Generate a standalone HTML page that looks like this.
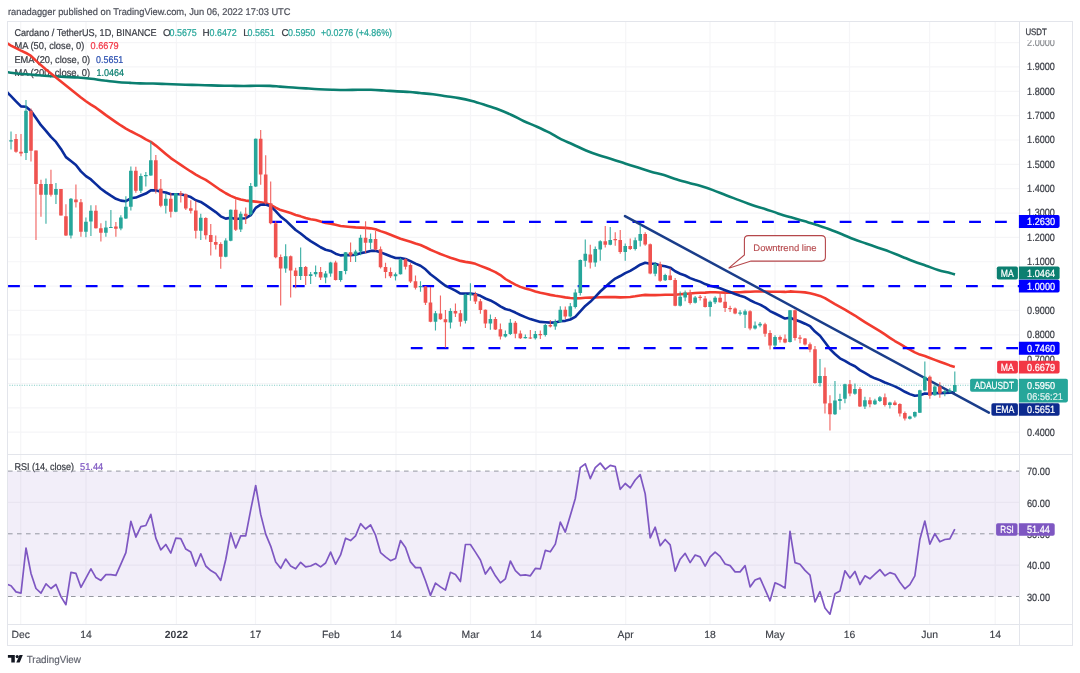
<!DOCTYPE html>
<html><head><meta charset="utf-8"><style>html,body{margin:0;padding:0;background:#fff;width:1080px;height:673px;overflow:hidden}svg{display:block;will-change:transform;text-rendering:geometricPrecision}</style></head>
<body>
<svg width="1080" height="673" viewBox="0 0 1080 673" font-family='"Liberation Sans", sans-serif'>
<defs>
<clipPath id="mp"><rect x="8" y="22" width="1011.0" height="432.0"/></clipPath>
<clipPath id="rp"><rect x="8" y="455.0" width="1011.0" height="169.0"/></clipPath>
</defs>
<rect width="1080" height="673" fill="#fff"/>
<text x="8" y="15.1" font-size="9.7" fill="#4e515b" textLength="282.5" lengthAdjust="spacingAndGlyphs" stroke="#4e515b" stroke-width="0.22">ranadagger published on TradingView.com, Jun 06, 2022 17:03 UTC</text>
<path d="M20.7 21V624.5 M86 21V624.5 M176.4 21V624.5 M255.5 21V624.5 M330.9 21V624.5 M396 21V624.5 M470.5 21V624.5 M536 21V624.5 M625.7 21V624.5 M710 21V624.5 M775 21V624.5 M849.5 21V624.5 M929.6 21V624.5 M995.2 21V624.5 M7 432.20H1019.5 M7 407.85H1019.5 M7 383.50H1019.5 M7 359.15H1019.5 M7 334.80H1019.5 M7 310.45H1019.5 M7 286.10H1019.5 M7 261.75H1019.5 M7 237.40H1019.5 M7 213.05H1019.5 M7 188.70H1019.5 M7 164.35H1019.5 M7 140.00H1019.5 M7 115.65H1019.5 M7 91.30H1019.5 M7 66.95H1019.5 M7 42.60H1019.5 M7 502.45H1019.5 M7 565.15H1019.5" stroke="#f5f5f7" stroke-width="1.2" fill="none"/>
<text x="14.4" y="469.6" font-size="9.9" fill="#3a3d45" textLength="59.7" lengthAdjust="spacingAndGlyphs" stroke="#3a3d45" stroke-width="0.22">RSI (14, close)</text>
<text x="80" y="469.6" font-size="9.9" fill="#7e57c2" textLength="23.2" lengthAdjust="spacingAndGlyphs" stroke="#7e57c2" stroke-width="0.22">51.44</text>
<rect x="7" y="471.10" width="1012.5" height="125.40" fill="#7e57c2" fill-opacity="0.1"/>
<path d="M8 471.10H1019.5" stroke="#9598a1" stroke-width="1" stroke-dasharray="4.6 4.4"/>
<path d="M8 533.80H1019.5" stroke="#9598a1" stroke-width="1" stroke-dasharray="4.6 4.4"/>
<path d="M8 596.50H1019.5" stroke="#9598a1" stroke-width="1" stroke-dasharray="4.6 4.4"/>
<text x="14.4" y="35.9" font-size="9.9" fill="#3a3d45" textLength="142.3" lengthAdjust="spacingAndGlyphs" stroke="#3a3d45" stroke-width="0.22">Cardano / TetherUS, 1D, BINANCE</text>
<text x="162.9" y="35.9" font-size="9.9" fill="#3a3d45" stroke="#3a3d45" stroke-width="0.22">O</text>
<text x="169.5" y="35.9" font-size="9.9" fill="#26a69a" textLength="27.3" lengthAdjust="spacingAndGlyphs" stroke="#26a69a" stroke-width="0.22">0.5675</text>
<text x="202.6" y="35.9" font-size="9.9" fill="#3a3d45" stroke="#3a3d45" stroke-width="0.22">H</text>
<text x="209.5" y="35.9" font-size="9.9" fill="#26a69a" textLength="27.3" lengthAdjust="spacingAndGlyphs" stroke="#26a69a" stroke-width="0.22">0.6472</text>
<text x="243.2" y="35.9" font-size="9.9" fill="#3a3d45" stroke="#3a3d45" stroke-width="0.22">L</text>
<text x="247.5" y="35.9" font-size="9.9" fill="#26a69a" textLength="27.3" lengthAdjust="spacingAndGlyphs" stroke="#26a69a" stroke-width="0.22">0.5651</text>
<text x="281.5" y="35.9" font-size="9.9" fill="#3a3d45" stroke="#3a3d45" stroke-width="0.22">C</text>
<text x="288" y="35.9" font-size="9.9" fill="#26a69a" textLength="27.3" lengthAdjust="spacingAndGlyphs" stroke="#26a69a" stroke-width="0.22">0.5950</text>
<text x="321" y="35.9" font-size="9.9" fill="#26a69a" textLength="71" lengthAdjust="spacingAndGlyphs" stroke="#26a69a" stroke-width="0.22">+0.0276 (+4.86%)</text>
<text x="14.4" y="49.4" font-size="9.9" fill="#3a3d45" textLength="70" lengthAdjust="spacingAndGlyphs" stroke="#3a3d45" stroke-width="0.22">MA (50, close, 0)</text>
<text x="90.6" y="49.4" font-size="9.9" fill="#f23645" textLength="28" lengthAdjust="spacingAndGlyphs" stroke="#f23645" stroke-width="0.22">0.6679</text>
<text x="14.4" y="62.8" font-size="9.9" fill="#3a3d45" textLength="75.8" lengthAdjust="spacingAndGlyphs" stroke="#3a3d45" stroke-width="0.22">EMA (20, close, 0)</text>
<text x="96.1" y="62.8" font-size="9.9" fill="#2a4fb0" textLength="27.2" lengthAdjust="spacingAndGlyphs" stroke="#2a4fb0" stroke-width="0.22">0.5651</text>
<text x="14.4" y="76.1" font-size="9.9" fill="#3a3d45" textLength="75.8" lengthAdjust="spacingAndGlyphs" stroke="#3a3d45" stroke-width="0.22">MA (200, close, 0)</text>
<text x="96.4" y="76.1" font-size="9.9" fill="#0b7f70" textLength="27.6" lengthAdjust="spacingAndGlyphs" stroke="#0b7f70" stroke-width="0.22">1.0464</text>
<g clip-path="url(#mp)">
<path d="M7.00 72.10C8.00 72.25 9.83 72.63 13.00 73.00C16.17 73.37 21.67 73.92 26.00 74.30C30.33 74.68 34.67 74.98 39.00 75.30C43.33 75.62 47.67 75.93 52.00 76.20C56.33 76.47 60.67 76.68 65.00 76.90C69.33 77.12 73.67 77.18 78.00 77.50C82.33 77.82 86.67 78.30 91.00 78.80C95.33 79.30 99.67 79.97 104.00 80.50C108.33 81.03 112.67 81.60 117.00 82.00C121.33 82.40 126.17 82.67 130.00 82.90C133.83 83.13 136.17 83.30 140.00 83.40C143.83 83.50 148.67 83.40 153.00 83.50C157.33 83.60 161.67 83.83 166.00 84.00C170.33 84.17 174.67 84.35 179.00 84.50C183.33 84.65 187.67 84.78 192.00 84.90C196.33 85.02 200.67 85.08 205.00 85.20C209.33 85.32 213.67 85.50 218.00 85.60C222.33 85.70 226.67 85.73 231.00 85.80C235.33 85.87 239.67 86.02 244.00 86.00C248.33 85.98 252.67 85.72 257.00 85.70C261.33 85.68 266.17 85.75 270.00 85.90C273.83 86.05 276.17 86.33 280.00 86.60C283.83 86.87 288.67 87.20 293.00 87.50C297.33 87.80 301.67 88.12 306.00 88.40C310.33 88.68 314.67 88.98 319.00 89.20C323.33 89.42 327.67 89.57 332.00 89.70C336.33 89.83 340.67 89.98 345.00 90.00C349.33 90.02 353.67 89.83 358.00 89.80C362.33 89.77 366.67 89.68 371.00 89.80C375.33 89.92 379.67 90.23 384.00 90.50C388.33 90.77 392.67 91.15 397.00 91.40C401.33 91.65 406.17 91.73 410.00 92.00C413.83 92.27 416.17 92.62 420.00 93.00C423.83 93.38 428.67 93.77 433.00 94.30C437.33 94.83 441.67 95.57 446.00 96.20C450.33 96.83 454.67 97.30 459.00 98.10C463.33 98.90 467.67 99.87 472.00 101.00C476.33 102.13 480.67 103.53 485.00 104.90C489.33 106.27 493.67 107.57 498.00 109.20C502.33 110.83 506.67 112.70 511.00 114.70C515.33 116.70 519.67 119.20 524.00 121.20C528.33 123.20 532.67 124.75 537.00 126.70C541.33 128.65 546.17 130.90 550.00 132.90C553.83 134.90 556.17 136.77 560.00 138.70C563.83 140.63 568.67 142.53 573.00 144.50C577.33 146.47 581.67 148.70 586.00 150.50C590.33 152.30 594.67 153.85 599.00 155.30C603.33 156.75 607.67 157.85 612.00 159.20C616.33 160.55 620.67 162.00 625.00 163.40C629.33 164.80 633.67 166.22 638.00 167.60C642.33 168.98 646.67 170.45 651.00 171.70C655.33 172.95 659.67 173.80 664.00 175.10C668.33 176.40 672.67 178.15 677.00 179.50C681.33 180.85 686.17 182.15 690.00 183.20C693.83 184.25 696.17 184.65 700.00 185.80C703.83 186.95 708.67 188.52 713.00 190.10C717.33 191.68 721.67 193.63 726.00 195.30C730.33 196.97 734.67 198.48 739.00 200.10C743.33 201.72 747.67 203.53 752.00 205.00C756.33 206.47 760.67 207.50 765.00 208.90C769.33 210.30 773.67 212.00 778.00 213.40C782.33 214.80 786.67 216.05 791.00 217.30C795.33 218.55 799.67 219.60 804.00 220.90C808.33 222.20 812.67 223.67 817.00 225.10C821.33 226.53 825.83 227.98 830.00 229.50C834.17 231.02 838.00 232.57 842.00 234.20C846.00 235.83 850.00 237.75 854.00 239.30C858.00 240.85 862.00 242.10 866.00 243.50C870.00 244.90 874.00 246.30 878.00 247.70C882.00 249.10 886.00 250.40 890.00 251.90C894.00 253.40 898.00 255.10 902.00 256.70C906.00 258.30 910.00 260.00 914.00 261.50C918.00 263.00 922.00 264.30 926.00 265.70C930.00 267.10 934.00 268.68 938.00 269.90C942.00 271.12 947.17 272.22 950.00 273.00C952.83 273.78 954.17 274.33 955.00 274.60" stroke="#0b7f70" stroke-width="2.6" fill="none" stroke-linejoin="round"/>
<polyline points="6.02,42.70 11.01,45.53 16.01,48.15 21.00,50.65 25.99,52.95 30.99,55.84 35.98,60.63 40.97,65.16 45.97,69.51 50.96,73.56 55.96,77.55 60.95,81.54 65.94,85.53 70.94,89.52 75.93,93.52 80.92,97.57 85.92,101.24 90.91,104.64 95.90,107.68 100.90,111.41 105.89,115.13 110.88,118.64 115.88,122.11 120.87,125.46 125.87,128.57 130.86,131.27 135.85,133.80 140.85,136.38 145.84,139.41 150.83,141.92 155.83,145.61 160.82,149.66 165.81,153.97 170.81,158.12 175.80,161.49 180.80,164.86 185.79,168.21 190.78,171.47 195.78,174.56 200.77,177.43 205.76,179.93 210.76,183.25 215.75,186.74 220.74,190.21 225.74,193.26 230.73,195.90 235.72,197.93 240.72,199.48 245.71,200.60 250.71,201.14 255.70,201.62 260.69,202.20 265.69,203.17 270.68,204.95 275.67,207.65 280.67,210.11 285.66,211.56 290.65,213.07 295.65,214.91 300.64,216.36 305.64,218.10 310.63,219.27 315.62,220.00 320.62,221.58 325.61,223.01 330.60,223.62 335.60,224.78 340.59,225.99 345.58,226.47 350.58,226.93 355.57,227.41 360.56,227.63 365.56,227.91 370.55,228.34 375.55,229.20 380.54,231.13 385.53,232.75 390.53,234.76 395.52,236.74 400.51,238.72 405.51,240.27 410.50,241.78 415.49,243.56 420.49,245.05 425.48,247.24 430.48,249.78 435.47,251.87 440.46,254.04 445.46,255.87 450.45,257.74 455.44,259.30 460.44,260.89 465.43,261.88 470.42,262.62 475.42,263.84 480.41,265.84 485.40,267.72 490.40,269.82 495.39,272.09 500.39,275.10 505.38,279.00 510.37,281.97 515.37,284.58 520.36,286.88 525.35,288.47 530.35,289.86 535.34,291.42 540.33,292.71 545.33,293.69 550.32,294.88 555.32,295.80 560.31,296.51 565.30,297.40 570.30,297.97 575.29,298.35 580.28,298.30 585.28,297.78 590.27,297.61 595.26,297.54 600.26,297.25 605.25,297.12 610.24,297.16 615.24,297.11 620.23,297.37 625.23,297.30 630.22,296.93 635.21,296.30 640.21,295.45 645.20,294.86 650.19,295.15 655.19,295.09 660.18,295.07 665.17,294.82 670.17,294.70 675.16,294.76 680.16,294.26 685.15,293.84 690.14,293.52 695.14,293.02 700.13,292.76 705.12,292.63 710.12,292.23 715.11,292.29 720.10,292.47 725.10,292.60 730.09,292.58 735.08,292.38 740.08,292.25 745.07,291.88 750.07,291.72 755.06,291.55 760.05,291.57 765.05,291.57 770.04,291.72 775.03,291.72 780.03,291.75 785.02,291.92 790.01,291.42 795.01,291.68 800.00,291.93 805.00,292.38 809.99,293.17 814.98,294.50 819.98,295.90 824.97,298.12 829.96,301.21 834.96,304.14 839.95,306.87 844.94,309.58 849.94,312.63 854.93,315.51 859.92,318.84 864.92,322.04 869.91,325.09 874.91,328.18 879.90,331.15 884.89,334.44 889.89,337.81 894.88,341.02 899.87,343.82 904.87,346.91 909.86,349.63 914.85,352.37 919.85,354.57 924.84,355.99 929.84,357.97 934.83,359.85 939.82,361.66 944.82,363.54 949.81,365.39 954.80,366.95" stroke="#f23b2f" stroke-width="2.6" fill="none" stroke-linejoin="round"/>
<polyline points="6.02,91.00 11.01,96.09 16.01,101.39 21.00,106.35 25.99,106.76 30.99,110.95 35.98,117.90 40.97,125.23 45.97,130.82 50.96,136.92 55.96,141.88 60.95,148.89 65.94,157.13 70.94,161.09 75.93,165.00 80.92,171.36 85.92,176.17 90.91,179.46 95.90,184.10 100.90,188.73 105.89,192.41 110.88,195.70 115.88,198.84 120.87,200.63 125.87,201.20 130.86,198.30 135.85,197.58 140.85,195.53 145.84,193.58 150.83,190.41 155.83,190.31 160.82,191.77 165.81,192.43 170.81,194.28 175.80,194.18 180.80,194.23 185.79,195.60 190.78,197.04 195.78,200.25 200.77,201.91 205.76,205.09 210.76,208.61 215.75,212.06 220.74,216.32 225.74,218.62 230.73,217.77 235.72,218.92 240.72,218.43 245.71,218.23 250.71,215.16 255.70,207.88 260.69,204.71 265.69,204.56 270.68,206.34 275.67,211.19 280.67,216.65 285.66,220.42 290.65,225.20 295.65,230.03 300.64,233.56 305.64,237.60 310.63,241.09 315.62,244.04 320.62,247.23 325.61,249.73 330.60,250.94 335.60,253.71 340.59,255.36 345.58,255.06 350.58,255.12 355.57,254.77 360.56,253.15 365.56,252.17 370.55,250.91 375.55,250.78 380.54,252.35 385.53,254.22 390.53,256.32 395.52,258.02 400.51,258.14 405.51,258.96 410.50,261.10 415.49,263.65 420.49,265.78 425.48,269.30 430.48,274.29 435.47,278.00 440.46,281.92 445.46,285.77 450.45,288.17 455.44,290.57 460.44,293.54 465.43,293.62 470.42,293.61 475.42,294.35 480.41,295.84 485.40,298.48 490.40,300.43 495.39,303.21 500.39,306.39 505.38,309.02 510.37,310.32 515.37,312.55 520.36,314.99 525.35,317.09 530.35,319.10 535.34,320.52 540.33,321.90 545.33,322.19 550.32,322.60 555.32,322.54 560.31,321.32 565.30,320.87 570.30,319.48 575.29,316.91 580.28,311.49 585.28,305.98 590.27,301.85 595.26,296.81 600.26,291.51 605.25,287.06 610.24,282.58 615.24,278.54 620.23,276.01 625.23,273.15 630.22,270.84 635.21,267.93 640.21,264.70 645.20,262.79 650.19,263.82 655.19,263.82 660.18,265.43 665.17,266.34 670.17,267.64 675.16,271.28 680.16,273.71 685.15,275.49 690.14,278.11 695.14,279.95 700.13,281.64 705.12,284.05 710.12,285.73 715.11,286.87 720.10,288.33 725.10,290.21 730.09,291.98 735.08,294.04 740.08,295.79 745.07,297.26 750.07,300.24 755.06,302.64 760.05,304.65 765.05,307.42 770.04,311.06 775.03,313.53 780.03,316.02 785.02,318.54 790.01,317.75 795.01,319.68 800.00,321.50 805.00,323.69 809.99,326.15 814.98,331.56 819.98,335.80 824.97,342.25 829.96,349.11 834.96,354.02 839.95,358.31 844.94,360.79 849.94,363.90 854.93,366.29 859.92,370.13 864.92,372.99 869.91,375.97 874.91,378.31 879.90,380.11 884.89,382.48 889.89,384.38 894.88,386.34 899.87,388.94 904.87,391.76 909.86,394.12 914.85,395.82 919.85,395.29 924.84,393.53 929.84,393.73 934.83,393.03 939.82,393.08 944.82,392.91 949.81,392.68 954.80,391.94" stroke="#0a2c9c" stroke-width="2.6" fill="none" stroke-linejoin="round"/>
<path d="M270.1 221.8H1019.5" stroke="#0000ff" stroke-width="2.3" stroke-dasharray="11.8 14.09"/>
<path d="M8.08 286.2H1019.5" stroke="#0000ff" stroke-width="2.3" stroke-dasharray="11.8 14.09"/>
<path d="M410.8 348.2H1019.5" stroke="#0000ff" stroke-width="2.3" stroke-dasharray="11.8 14.09"/>
<path d="M625 216.1L988.9 412.6" stroke="#1a3d8a" stroke-width="2.5" stroke-linecap="round"/>
<path d="M7 385.25H1019.5" stroke="#26a69a" stroke-width="1.1" stroke-dasharray="1 1.45" opacity="0.6"/>
<path d="M11.01 131.5V149.6 M25.99 100.0V160.0 M45.97 178.6V223.7 M55.96 183.0V203.9 M70.94 198.0V238.4 M85.92 217.6V237.3 M90.91 205.2V236.0 M105.89 220.8V236.7 M110.88 210.0V227.8 M120.87 215.2V230.3 M125.87 196.3V219.0 M130.86 166.4V210.6 M140.85 173.4V192.9 M145.84 172.0V186.6 M150.83 141.6V175.8 M165.81 194.0V213.4 M175.80 193.0V212.2 M200.77 213.7V240.1 M225.74 238.2V257.3 M230.73 209.5V241.2 M240.72 211.5V232.0 M250.71 183.0V215.7 M255.70 138.5V187.0 M285.66 244.2V272.8 M300.64 247.4V280.0 M310.63 272.0V284.0 M315.62 265.4V276.8 M325.61 271.0V283.3 M330.60 261.8V276.8 M340.59 271.0V281.7 M345.58 252.0V274.3 M355.57 249.8V262.0 M360.56 234.8V255.2 M370.55 233.5V249.0 M395.52 272.5V280.6 M400.51 258.0V274.6 M420.49 281.2V291.8 M435.47 311.0V330.4 M450.45 308.2V328.5 M465.43 293.7V323.6 M470.42 283.3V300.7 M490.40 314.5V329.7 M505.38 330.4V337.4 M510.37 319.0V335.0 M525.35 334.5V338.5 M535.34 330.9V339.5 M545.33 324.0V336.5 M555.32 319.4V329.7 M560.31 306.3V322.7 M570.30 303.0V317.8 M575.29 289.3V308.4 M580.28 259.6V295.6 M585.28 239.4V266.7 M595.26 246.5V266.7 M600.26 240.3V260.8 M610.24 227.0V245.3 M625.23 243.5V260.8 M635.21 237.6V250.6 M640.21 225.0V246.5 M655.19 262.0V276.3 M665.17 273.8V281.0 M680.16 291.5V306.6 M685.15 290.6V301.3 M695.14 296.0V303.5 M710.12 300.4V316.5 M715.11 296.3V303.9 M740.08 310.3V315.6 M745.07 309.4V328.1 M755.06 321.4V329.6 M760.05 321.9V327.2 M775.03 335.3V347.4 M790.01 310.0V342.4 M819.98 359.1V386.5 M834.96 380.9V415.0 M839.95 393.8V409.8 M844.94 383.8V403.2 M854.93 383.4V394.7 M864.92 396.8V409.1 M874.91 398.7V404.9 M879.90 396.0V402.0 M889.89 401.7V408.6 M909.86 415.8V419.6 M914.85 411.4V417.8 M919.85 389.8V413.1 M924.84 361.5V391.3 M934.83 384.5V395.7 M944.82 389.8V396.2 M949.81 388.3V392.6 M954.80 371.4V392.0" stroke="#26a69a" stroke-width="1.15" fill="none" opacity="0.88"/>
<path d="M9.21 140.2h3.6v1.2h-3.6z M24.19 110.7h3.6v42.3h-3.6z M44.17 184.0h3.6v10.8h-3.6z M54.16 189.0h3.6v5.8h-3.6z M69.14 198.7h3.6v36.7h-3.6z M84.12 221.8h3.6v10.0h-3.6z M89.11 210.7h3.6v10.9h-3.6z M104.09 227.4h3.6v5.3h-3.6z M109.08 226.9h3.6v1.2h-3.6z M119.07 217.6h3.6v10.9h-3.6z M124.07 206.7h3.6v11.9h-3.6z M129.06 170.7h3.6v36.1h-3.6z M139.05 176.1h3.6v14.6h-3.6z M144.04 175.1h3.6v1.2h-3.6z M149.03 160.3h3.6v15.3h-3.6z M164.01 198.7h3.6v7.0h-3.6z M174.00 193.2h3.6v18.6h-3.6z M198.97 217.7h3.6v13.0h-3.6z M223.94 240.5h3.6v16.3h-3.6z M228.93 209.7h3.6v31.0h-3.6z M238.92 213.8h3.6v15.8h-3.6z M248.91 186.0h3.6v28.3h-3.6z M253.90 138.7h3.6v47.9h-3.6z M283.86 256.2h3.6v12.3h-3.6z M298.84 267.0h3.6v9.0h-3.6z M308.83 274.3h3.6v1.7h-3.6z M313.82 272.0h3.6v2.3h-3.6z M323.81 273.5h3.6v4.1h-3.6z M328.80 262.4h3.6v11.1h-3.6z M338.79 271.0h3.6v9.0h-3.6z M343.78 252.3h3.6v18.7h-3.6z M353.77 251.5h3.6v4.1h-3.6z M358.76 237.8h3.6v13.7h-3.6z M368.75 239.0h3.6v3.8h-3.6z M393.72 274.2h3.6v2.0h-3.6z M398.71 259.3h3.6v15.0h-3.6z M418.69 286.0h3.6v1.2h-3.6z M433.67 313.2h3.6v8.5h-3.6z M448.65 311.0h3.6v11.5h-3.6z M463.63 294.4h3.6v26.4h-3.6z M468.62 293.5h3.6v1.8h-3.6z M488.60 319.0h3.6v4.5h-3.6z M503.58 334.0h3.6v2.6h-3.6z M508.57 322.7h3.6v11.3h-3.6z M523.55 337.0h3.6v1.2h-3.6z M533.54 334.0h3.6v4.2h-3.6z M543.53 325.0h3.6v10.0h-3.6z M553.52 321.9h3.6v4.6h-3.6z M558.51 309.8h3.6v12.2h-3.6z M568.50 306.3h3.6v10.3h-3.6z M573.49 292.4h3.6v14.7h-3.6z M578.48 260.0h3.6v32.9h-3.6z M583.48 253.7h3.6v7.1h-3.6z M593.46 248.9h3.6v13.7h-3.6z M598.46 241.2h3.6v8.4h-3.6z M608.44 240.0h3.6v4.8h-3.6z M623.43 246.0h3.6v5.9h-3.6z M633.41 240.3h3.6v8.6h-3.6z M638.41 234.0h3.6v6.7h-3.6z M653.39 263.9h3.6v9.8h-3.6z M663.37 275.0h3.6v5.3h-3.6z M678.36 296.8h3.6v9.0h-3.6z M683.35 292.4h3.6v5.0h-3.6z M693.34 297.4h3.6v5.3h-3.6z M708.32 301.7h3.6v5.3h-3.6z M713.31 297.7h3.6v4.5h-3.6z M738.28 312.5h3.6v1.2h-3.6z M743.27 311.2h3.6v3.6h-3.6z M753.26 325.5h3.6v3.0h-3.6z M758.25 323.7h3.6v1.8h-3.6z M773.23 337.0h3.6v8.6h-3.6z M788.21 310.3h3.6v31.7h-3.6z M818.18 376.0h3.6v7.1h-3.6z M833.16 400.6h3.6v13.7h-3.6z M838.15 399.1h3.6v1.9h-3.6z M843.14 384.3h3.6v14.4h-3.6z M853.13 389.0h3.6v4.8h-3.6z M863.12 400.2h3.6v6.4h-3.6z M873.11 400.6h3.6v3.6h-3.6z M878.10 397.2h3.6v3.8h-3.6z M888.09 402.4h3.6v2.6h-3.6z M908.06 416.5h3.6v2.3h-3.6z M913.05 412.0h3.6v4.5h-3.6z M918.05 390.2h3.6v22.6h-3.6z M923.04 376.8h3.6v13.7h-3.6z M933.03 386.4h3.6v8.9h-3.6z M943.02 391.3h3.6v1.2h-3.6z M948.01 390.5h3.6v1.2h-3.6z M953.00 384.9h3.6v6.8h-3.6z" fill="#26a69a"/>
<path d="M16.01 134.0V152.8 M21.00 134.0V156.2 M30.99 108.6V161.4 M35.98 150.5V239.9 M40.97 179.8V216.8 M50.96 169.8V196.6 M60.95 189.0V215.5 M65.94 204.2V235.9 M75.93 184.5V207.6 M80.92 198.9V236.8 M95.90 205.2V228.5 M100.90 223.2V241.6 M115.88 222.1V236.8 M135.85 166.8V192.8 M155.83 155.0V193.4 M160.82 179.0V207.2 M170.81 192.8V217.4 M180.80 191.0V202.4 M185.79 193.4V210.0 M190.78 200.2V213.4 M195.78 200.7V238.5 M205.76 217.2V239.4 M210.76 224.0V255.5 M215.75 235.5V249.6 M220.74 242.2V268.8 M235.72 199.2V230.9 M245.71 207.5V224.0 M260.69 130.0V184.8 M265.69 155.3V204.6 M270.68 181.5V224.2 M275.67 221.2V258.3 M280.67 254.5V305.6 M290.65 255.5V297.5 M295.65 267.8V288.2 M305.64 266.0V285.0 M320.62 267.0V280.0 M335.60 260.8V280.4 M350.58 242.5V262.0 M365.56 221.2V253.0 M375.55 231.0V250.6 M380.54 246.4V268.6 M385.53 262.8V278.3 M390.53 267.6V277.9 M405.51 258.6V269.6 M410.50 263.2V283.0 M415.49 275.4V289.5 M425.48 286.0V304.9 M430.48 287.0V322.3 M440.46 295.6V319.8 M445.46 310.0V347.8 M455.44 303.4V316.9 M460.44 310.0V326.5 M475.42 291.7V304.0 M480.41 299.0V313.7 M485.40 309.6V328.0 M495.39 317.0V330.0 M500.39 323.5V339.5 M515.37 321.0V338.2 M520.36 330.4V339.0 M530.35 330.0V339.0 M540.33 330.6V339.0 M550.32 320.0V327.6 M565.30 306.6V319.0 M590.27 244.8V268.5 M605.25 226.0V247.4 M615.24 232.3V245.7 M620.23 230.0V253.7 M630.22 238.5V250.0 M645.20 232.3V245.7 M650.19 243.5V274.2 M660.18 261.7V281.7 M670.17 268.3V280.3 M675.16 278.0V306.3 M690.14 289.7V304.5 M700.13 295.0V300.4 M705.12 296.0V307.5 M720.10 292.4V302.7 M725.10 292.4V312.0 M730.09 305.8V312.0 M735.08 307.5V314.2 M750.07 310.3V330.3 M765.05 322.8V336.7 M770.04 330.3V349.5 M780.03 335.6V342.4 M785.02 334.4V343.3 M795.01 309.4V340.6 M800.00 335.0V343.3 M805.00 338.0V345.6 M809.99 342.4V352.2 M814.98 346.0V383.8 M824.97 367.5V413.6 M829.96 395.3V430.6 M849.94 380.0V396.2 M859.92 387.3V406.9 M869.91 397.2V407.2 M884.89 393.5V406.6 M894.88 400.6V405.6 M899.87 403.2V416.5 M904.87 411.4V420.5 M929.84 375.4V398.7 M939.82 382.3V397.7" stroke="#ef5350" stroke-width="1.15" fill="none" opacity="0.88"/>
<path d="M14.21 139.1h3.6v12.7h-3.6z M19.20 151.8h3.6v1.6h-3.6z M29.19 110.7h3.6v40.0h-3.6z M34.18 150.5h3.6v33.5h-3.6z M39.17 184.0h3.6v10.8h-3.6z M49.16 184.0h3.6v10.8h-3.6z M59.15 189.0h3.6v26.5h-3.6z M64.14 216.2h3.6v19.2h-3.6z M74.13 199.5h3.6v2.7h-3.6z M79.12 202.2h3.6v29.6h-3.6z M94.10 210.7h3.6v17.5h-3.6z M99.10 228.2h3.6v4.5h-3.6z M114.08 226.5h3.6v2.2h-3.6z M134.05 170.7h3.6v20.0h-3.6z M154.03 160.3h3.6v29.0h-3.6z M159.02 188.8h3.6v16.9h-3.6z M169.01 198.7h3.6v13.1h-3.6z M179.00 193.2h3.6v1.6h-3.6z M183.99 194.2h3.6v14.4h-3.6z M188.98 208.3h3.6v2.4h-3.6z M193.98 210.5h3.6v20.2h-3.6z M203.96 218.1h3.6v17.2h-3.6z M208.96 235.0h3.6v7.1h-3.6z M213.95 242.0h3.6v2.8h-3.6z M218.94 244.0h3.6v12.8h-3.6z M233.92 209.8h3.6v20.0h-3.6z M243.91 213.8h3.6v2.5h-3.6z M258.89 138.7h3.6v35.9h-3.6z M263.89 174.6h3.6v28.6h-3.6z M268.88 203.2h3.6v20.0h-3.6z M273.87 223.2h3.6v34.1h-3.6z M278.87 257.1h3.6v11.4h-3.6z M288.85 256.2h3.6v14.4h-3.6z M293.85 270.5h3.6v5.5h-3.6z M303.84 267.0h3.6v9.0h-3.6z M318.82 272.0h3.6v5.6h-3.6z M333.80 262.4h3.6v17.6h-3.6z M348.78 252.3h3.6v3.3h-3.6z M363.76 237.8h3.6v5.0h-3.6z M373.75 239.0h3.6v10.5h-3.6z M378.74 249.3h3.6v18.0h-3.6z M383.73 267.0h3.6v5.0h-3.6z M388.73 272.0h3.6v4.2h-3.6z M403.71 259.3h3.6v7.4h-3.6z M408.70 265.0h3.6v16.5h-3.6z M413.69 281.3h3.6v6.5h-3.6z M423.68 286.4h3.6v16.4h-3.6z M428.68 302.6h3.6v19.1h-3.6z M438.66 313.4h3.6v5.8h-3.6z M443.66 319.2h3.6v3.1h-3.6z M453.64 311.0h3.6v2.4h-3.6z M458.64 313.2h3.6v8.5h-3.6z M473.62 294.0h3.6v7.4h-3.6z M478.61 301.2h3.6v8.8h-3.6z M483.60 309.7h3.6v13.8h-3.6z M493.59 319.0h3.6v10.6h-3.6z M498.59 329.3h3.6v7.3h-3.6z M513.57 322.7h3.6v11.0h-3.6z M518.56 333.4h3.6v4.8h-3.6z M528.55 337.4h3.6v1.2h-3.6z M538.53 334.0h3.6v1.2h-3.6z M548.52 325.0h3.6v1.5h-3.6z M563.50 309.8h3.6v6.8h-3.6z M588.47 254.6h3.6v8.0h-3.6z M603.45 241.2h3.6v3.6h-3.6z M613.44 238.9h3.6v1.3h-3.6z M618.43 240.0h3.6v11.9h-3.6z M628.42 246.0h3.6v2.9h-3.6z M643.40 234.0h3.6v10.6h-3.6z M648.39 244.3h3.6v29.3h-3.6z M658.38 264.2h3.6v16.5h-3.6z M668.37 275.5h3.6v4.5h-3.6z M673.36 280.0h3.6v25.8h-3.6z M688.34 292.4h3.6v10.6h-3.6z M698.33 296.8h3.6v1.2h-3.6z M703.32 298.6h3.6v8.4h-3.6z M718.30 297.7h3.6v4.5h-3.6z M723.30 301.7h3.6v6.3h-3.6z M728.29 308.0h3.6v1.2h-3.6z M733.28 308.4h3.6v5.2h-3.6z M748.27 311.2h3.6v17.3h-3.6z M763.25 324.2h3.6v9.6h-3.6z M768.24 333.0h3.6v12.6h-3.6z M778.23 337.0h3.6v2.7h-3.6z M783.22 338.8h3.6v3.6h-3.6z M793.21 310.3h3.6v27.7h-3.6z M798.20 337.4h3.6v1.4h-3.6z M803.20 338.5h3.6v6.0h-3.6z M808.19 344.2h3.6v5.3h-3.6z M813.18 349.2h3.6v33.8h-3.6z M823.17 376.0h3.6v27.6h-3.6z M828.16 403.2h3.6v11.1h-3.6z M848.14 384.3h3.6v9.2h-3.6z M858.12 389.0h3.6v17.6h-3.6z M868.11 400.2h3.6v4.0h-3.6z M883.09 397.2h3.6v7.8h-3.6z M893.08 402.4h3.6v2.6h-3.6z M898.07 403.9h3.6v9.7h-3.6z M903.07 413.1h3.6v5.5h-3.6z M928.04 376.8h3.6v18.9h-3.6z M938.02 386.4h3.6v7.1h-3.6z" fill="#ef5350"/>
</g>
<path d="M748.4 235.6H821.4Q825.4 235.6 825.4 239.6V257.1Q825.4 261.1 821.4 261.1H751L728.7 268.2L744.4 255V239.6Q744.4 235.6 748.4 235.6Z" fill="#fff" stroke="#b5474b" stroke-width="1.1"/>
<text x="753.3" y="251.4" font-size="9.3" fill="#b5474b" textLength="63.3" lengthAdjust="spacingAndGlyphs" stroke="#b5474b" stroke-width="0.12">Downtrend line</text>
<g clip-path="url(#rp)"><polyline points="6.02,584.00 11.01,585.70 16.01,591.90 21.00,593.10 25.99,548.00 30.99,573.40 35.98,588.50 40.97,593.10 45.97,583.80 50.96,588.50 55.96,584.50 60.95,596.60 65.94,604.70 70.94,572.30 75.93,573.40 80.92,587.30 85.92,578.10 90.91,568.80 95.90,577.60 100.90,580.40 105.89,574.60 110.88,574.60 115.88,575.30 120.87,564.20 125.87,552.60 130.86,521.30 135.85,537.10 140.85,526.70 145.84,525.50 150.83,514.40 155.83,538.20 160.82,549.80 165.81,544.50 170.81,553.10 175.80,538.20 180.80,538.70 185.79,549.10 190.78,552.10 195.78,566.00 200.77,553.80 205.76,566.00 210.76,570.60 215.75,573.40 220.74,580.40 225.74,559.50 230.73,532.90 235.72,548.00 240.72,535.90 245.71,535.90 250.71,509.80 255.70,485.50 260.69,514.40 265.69,534.10 270.68,546.10 275.67,561.90 280.67,568.30 285.66,559.10 290.65,566.00 295.65,568.80 300.64,562.30 305.64,566.90 310.63,566.00 315.62,563.50 320.62,566.90 325.61,563.00 330.60,552.10 335.60,564.20 340.59,554.90 345.58,538.20 350.58,540.60 355.57,535.90 360.56,523.70 365.56,529.00 370.55,524.80 375.55,535.20 380.54,552.60 385.53,556.80 390.53,560.70 395.52,558.40 400.51,540.60 405.51,547.50 410.50,561.90 415.49,567.60 420.49,567.60 425.48,580.80 430.48,595.40 435.47,583.10 440.46,586.90 445.46,590.10 450.45,572.30 455.44,574.60 460.44,581.50 465.43,544.50 470.42,544.50 475.42,552.10 480.41,560.00 485.40,574.00 490.40,567.00 495.39,575.80 500.39,582.80 505.38,578.80 510.37,561.00 515.37,570.70 520.36,575.40 525.35,574.90 530.35,575.80 535.34,568.40 540.33,568.90 545.33,550.40 550.32,551.80 555.32,544.10 560.31,522.10 565.30,532.10 570.30,515.60 575.29,498.50 580.28,467.70 585.28,463.80 590.27,478.60 595.26,467.70 600.26,463.10 605.25,469.40 610.24,465.40 615.24,466.60 620.23,489.30 625.23,483.50 630.22,487.90 635.21,480.00 640.21,474.70 645.20,493.90 650.19,537.90 655.19,527.20 660.18,545.70 665.17,539.50 670.17,544.80 675.16,571.20 680.16,559.20 685.15,553.40 690.14,562.60 695.14,555.00 700.13,556.90 705.12,566.10 710.12,556.90 715.11,552.20 720.10,556.40 725.10,564.00 730.09,565.60 735.08,571.90 740.08,571.90 745.07,565.60 750.07,586.90 755.06,580.00 760.05,578.10 765.05,589.30 770.04,600.80 775.03,582.80 780.03,585.10 785.02,588.10 790.01,531.40 795.01,562.60 800.00,564.30 805.00,570.40 809.99,575.10 814.98,601.90 819.98,591.70 824.97,608.00 829.96,614.20 834.96,593.70 839.95,591.10 844.94,570.80 849.94,578.00 854.93,571.40 859.92,584.50 864.92,575.80 869.91,578.80 874.91,574.20 879.90,569.60 884.89,575.80 889.89,572.60 894.88,574.20 899.87,582.30 904.87,588.80 909.86,584.60 914.85,575.80 919.85,539.50 924.84,521.00 929.84,544.10 934.83,533.70 939.82,541.80 944.82,539.50 949.81,538.80 954.80,529.10" stroke="#7e57c2" stroke-width="1.7" fill="none" stroke-linejoin="round"/></g>
<rect x="7.5" y="21.5" width="1065" height="624" fill="none" stroke="#e3e5eb"/>
<path d="M1019.5 21V646M7 454.5H1073M7 624.5H1073" stroke="#e3e5eb" stroke-width="1"/>
<text x="1027.1" y="435.5" font-size="10.5" fill="#3a3d45" textLength="27.8" lengthAdjust="spacingAndGlyphs" stroke="#3a3d45" stroke-width="0.22">0.4000</text>
<text x="1027.1" y="411.2" font-size="10.5" fill="#3a3d45" textLength="27.8" lengthAdjust="spacingAndGlyphs" stroke="#3a3d45" stroke-width="0.22">0.5000</text>
<text x="1027.1" y="386.8" font-size="10.5" fill="#3a3d45" textLength="27.8" lengthAdjust="spacingAndGlyphs" stroke="#3a3d45" stroke-width="0.22">0.6000</text>
<text x="1027.1" y="362.5" font-size="10.5" fill="#3a3d45" textLength="27.8" lengthAdjust="spacingAndGlyphs" stroke="#3a3d45" stroke-width="0.22">0.7000</text>
<text x="1027.1" y="338.1" font-size="10.5" fill="#3a3d45" textLength="27.8" lengthAdjust="spacingAndGlyphs" stroke="#3a3d45" stroke-width="0.22">0.8000</text>
<text x="1027.1" y="313.8" font-size="10.5" fill="#3a3d45" textLength="27.8" lengthAdjust="spacingAndGlyphs" stroke="#3a3d45" stroke-width="0.22">0.9000</text>
<text x="1027.1" y="289.4" font-size="10.5" fill="#3a3d45" textLength="27.8" lengthAdjust="spacingAndGlyphs" stroke="#3a3d45" stroke-width="0.22">1.0000</text>
<text x="1027.1" y="265.1" font-size="10.5" fill="#3a3d45" textLength="27.8" lengthAdjust="spacingAndGlyphs" stroke="#3a3d45" stroke-width="0.22">1.1000</text>
<text x="1027.1" y="240.7" font-size="10.5" fill="#3a3d45" textLength="27.8" lengthAdjust="spacingAndGlyphs" stroke="#3a3d45" stroke-width="0.22">1.2000</text>
<text x="1027.1" y="216.3" font-size="10.5" fill="#3a3d45" textLength="27.8" lengthAdjust="spacingAndGlyphs" stroke="#3a3d45" stroke-width="0.22">1.3000</text>
<text x="1027.1" y="192.0" font-size="10.5" fill="#3a3d45" textLength="27.8" lengthAdjust="spacingAndGlyphs" stroke="#3a3d45" stroke-width="0.22">1.4000</text>
<text x="1027.1" y="167.7" font-size="10.5" fill="#3a3d45" textLength="27.8" lengthAdjust="spacingAndGlyphs" stroke="#3a3d45" stroke-width="0.22">1.5000</text>
<text x="1027.1" y="143.3" font-size="10.5" fill="#3a3d45" textLength="27.8" lengthAdjust="spacingAndGlyphs" stroke="#3a3d45" stroke-width="0.22">1.6000</text>
<text x="1027.1" y="119.0" font-size="10.5" fill="#3a3d45" textLength="27.8" lengthAdjust="spacingAndGlyphs" stroke="#3a3d45" stroke-width="0.22">1.7000</text>
<text x="1027.1" y="94.6" font-size="10.5" fill="#3a3d45" textLength="27.8" lengthAdjust="spacingAndGlyphs" stroke="#3a3d45" stroke-width="0.22">1.8000</text>
<text x="1027.1" y="70.3" font-size="10.5" fill="#3a3d45" textLength="27.8" lengthAdjust="spacingAndGlyphs" stroke="#3a3d45" stroke-width="0.22">1.9000</text>
<text x="1027.1" y="45.9" font-size="10.5" fill="#3a3d45" textLength="27.8" lengthAdjust="spacingAndGlyphs" opacity="0.6" stroke="#3a3d45" stroke-width="0.22">2.0000</text>
<rect x="1020.0" y="22" width="51.5" height="18.2" fill="#fff"/>
<text x="1025.4" y="35.4" font-size="9.4" fill="#3a3d45" textLength="21.4" lengthAdjust="spacingAndGlyphs" stroke="#3a3d45" stroke-width="0.3">USDT</text>
<text x="1027" y="475.2" font-size="10.5" fill="#3a3d45" textLength="23.0" lengthAdjust="spacingAndGlyphs" stroke="#3a3d45" stroke-width="0.22">70.00</text>
<text x="1027" y="506.6" font-size="10.5" fill="#3a3d45" textLength="23.0" lengthAdjust="spacingAndGlyphs" stroke="#3a3d45" stroke-width="0.22">60.00</text>
<text x="1027" y="537.9" font-size="10.5" fill="#3a3d45" textLength="23.0" lengthAdjust="spacingAndGlyphs" stroke="#3a3d45" stroke-width="0.22">50.00</text>
<text x="1027" y="569.2" font-size="10.5" fill="#3a3d45" textLength="23.0" lengthAdjust="spacingAndGlyphs" stroke="#3a3d45" stroke-width="0.22">40.00</text>
<text x="1027" y="600.6" font-size="10.5" fill="#3a3d45" textLength="23.0" lengthAdjust="spacingAndGlyphs" stroke="#3a3d45" stroke-width="0.22">30.00</text>
<path d="M1018.9 215.1H1057.8Q1059.6 215.1 1059.6 216.9V226.1Q1059.6 227.9 1057.8 227.9H1018.9Z" fill="#0000ff"/><text x="1027.1" y="225.2" font-size="10.4" fill="#fff" textLength="28" lengthAdjust="spacingAndGlyphs" stroke="#fff" stroke-width="0.22">1.2630</text>
<rect x="996.8" y="266.4" width="21.100000000000023" height="13.100000000000023" rx="1.8" fill="#0b7f70"/><text x="1000.8" y="276.6" font-size="10.4" fill="#fff" textLength="13" lengthAdjust="spacingAndGlyphs" stroke="#fff" stroke-width="0.22">MA</text>
<path d="M1018.9 266.4H1057.8Q1059.6 266.4 1059.6 268.2V277.7Q1059.6 279.5 1057.8 279.5H1018.9Z" fill="#0b7f70"/><text x="1027.1" y="276.6" font-size="10.4" fill="#fff" textLength="28" lengthAdjust="spacingAndGlyphs" stroke="#fff" stroke-width="0.22">1.0464</text>
<path d="M1018.9 279.8H1057.8Q1059.6 279.8 1059.6 281.6V290.7Q1059.6 292.5 1057.8 292.5H1018.9Z" fill="#0000ff"/><text x="1027.1" y="289.8" font-size="10.4" fill="#fff" textLength="28" lengthAdjust="spacingAndGlyphs" stroke="#fff" stroke-width="0.22">1.0000</text>
<path d="M1018.9 341.8H1057.8Q1059.6 341.8 1059.6 343.6V353.0Q1059.6 354.8 1057.8 354.8H1018.9Z" fill="#0000ff"/><text x="1027.1" y="352.0" font-size="10.4" fill="#fff" textLength="28" lengthAdjust="spacingAndGlyphs" stroke="#fff" stroke-width="0.22">0.7460</text>
<rect x="997.1" y="360.7" width="20.799999999999955" height="12.900000000000034" rx="1.8" fill="#f23645"/><text x="1000.8" y="370.8" font-size="10.4" fill="#fff" textLength="13" lengthAdjust="spacingAndGlyphs" stroke="#fff" stroke-width="0.22">MA</text>
<path d="M1018.9 360.7H1057.8Q1059.6 360.7 1059.6 362.5V371.8Q1059.6 373.6 1057.8 373.6H1018.9Z" fill="#f23645"/><text x="1027.1" y="370.8" font-size="10.4" fill="#fff" textLength="28" lengthAdjust="spacingAndGlyphs" stroke="#fff" stroke-width="0.22">0.6679</text>
<rect x="970.1" y="378.7" width="47.799999999999955" height="13.100000000000023" rx="1.8" fill="#26a69a"/><text x="974.6" y="388.9" font-size="10.4" fill="#fff" textLength="39.5" lengthAdjust="spacingAndGlyphs" stroke="#fff" stroke-width="0.22">ADAUSDT</text>
<path d="M1018.9 378.7H1066.1Q1067.9 378.7 1067.9 380.5V400.6Q1067.9 402.4 1066.1 402.4H1018.9Z" fill="#26a69a"/>
<text x="1027.1" y="388.8" font-size="10" fill="#fff" textLength="28" lengthAdjust="spacingAndGlyphs" stroke="#fff" stroke-width="0.22">0.5950</text>
<text x="1027.1" y="399.6" font-size="10" fill="#dff2ef" textLength="35.8" lengthAdjust="spacingAndGlyphs" stroke="#dff2ef" stroke-width="0.22">06:56:21</text>
<rect x="991.4" y="403.2" width="26.5" height="12.600000000000023" rx="1.8" fill="#0d2a8e"/><text x="995.4" y="413.2" font-size="10.4" fill="#fff" textLength="19" lengthAdjust="spacingAndGlyphs" stroke="#fff" stroke-width="0.22">EMA</text>
<path d="M1018.9 403.2H1057.8Q1059.6 403.2 1059.6 405.0V414.0Q1059.6 415.8 1057.8 415.8H1018.9Z" fill="#0d2a8e"/><text x="1027.1" y="413.2" font-size="10.4" fill="#fff" textLength="28" lengthAdjust="spacingAndGlyphs" stroke="#fff" stroke-width="0.22">0.5651</text>
<rect x="996.1" y="523.2" width="21.399999999999977" height="12.5" rx="1.8" fill="#7e57c2"/><text x="1000.3" y="533.2" font-size="10.4" fill="#fff" textLength="13.5" lengthAdjust="spacingAndGlyphs" stroke="#fff" stroke-width="0.22">RSI</text>
<path d="M1018.9 523.2H1052.9Q1054.7 523.2 1054.7 525.0V533.9000000000001Q1054.7 535.7 1052.9 535.7H1018.9Z" fill="#7e57c2"/><text x="1026.9" y="533.2" font-size="10.4" fill="#fff" textLength="23" lengthAdjust="spacingAndGlyphs" stroke="#fff" stroke-width="0.22">51.44</text>
<text x="20.7" y="637.9" font-size="10.4" fill="#3a3d45" text-anchor="middle" stroke="#3a3d45" stroke-width="0.12">Dec</text>
<text x="86" y="637.9" font-size="10.4" fill="#3a3d45" text-anchor="middle" stroke="#3a3d45" stroke-width="0.12">14</text>
<text x="176.4" y="637.9" font-size="10.4" fill="#3a3d45" text-anchor="middle" font-weight="bold">2022</text>
<text x="255.5" y="637.9" font-size="10.4" fill="#3a3d45" text-anchor="middle" stroke="#3a3d45" stroke-width="0.12">17</text>
<text x="330.9" y="637.9" font-size="10.4" fill="#3a3d45" text-anchor="middle" stroke="#3a3d45" stroke-width="0.12">Feb</text>
<text x="396" y="637.9" font-size="10.4" fill="#3a3d45" text-anchor="middle" stroke="#3a3d45" stroke-width="0.12">14</text>
<text x="470.5" y="637.9" font-size="10.4" fill="#3a3d45" text-anchor="middle" stroke="#3a3d45" stroke-width="0.12">Mar</text>
<text x="536" y="637.9" font-size="10.4" fill="#3a3d45" text-anchor="middle" stroke="#3a3d45" stroke-width="0.12">14</text>
<text x="625.7" y="637.9" font-size="10.4" fill="#3a3d45" text-anchor="middle" stroke="#3a3d45" stroke-width="0.12">Apr</text>
<text x="710" y="637.9" font-size="10.4" fill="#3a3d45" text-anchor="middle" stroke="#3a3d45" stroke-width="0.12">18</text>
<text x="775" y="637.9" font-size="10.4" fill="#3a3d45" text-anchor="middle" stroke="#3a3d45" stroke-width="0.12">May</text>
<text x="849.5" y="637.9" font-size="10.4" fill="#3a3d45" text-anchor="middle" stroke="#3a3d45" stroke-width="0.12">16</text>
<text x="929.6" y="637.9" font-size="10.4" fill="#3a3d45" text-anchor="middle" stroke="#3a3d45" stroke-width="0.12">Jun</text>
<text x="995.2" y="637.9" font-size="10.4" fill="#3a3d45" text-anchor="middle" stroke="#3a3d45" stroke-width="0.12">14</text>
<g fill="#131722"><path d="M7.9 655H14.8V662.6H11.3V657.7H7.9Z"/><circle cx="17.2" cy="656.6" r="1.6"/><path d="M19.5 655H22.8L19.7 662.6H16.3Z"/></g>
<text x="26.7" y="662.6" font-size="10.3" fill="#5d606b" textLength="54.3" lengthAdjust="spacingAndGlyphs" stroke="#5d606b" stroke-width="0.15">TradingView</text>
</svg>
</body></html>
